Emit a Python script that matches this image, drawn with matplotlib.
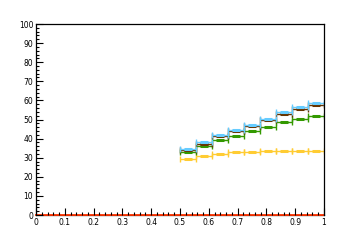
import numpy as np
import matplotlib
matplotlib.use('Agg')
import matplotlib.pyplot as plt
from matplotlib.ticker import MultipleLocator

edges = np.linspace(0.5, 1.0, 10)
centers = (edges[:-1] + edges[1:]) / 2
half = (edges[1:] - edges[:-1]) / 2

blue = [34.7, 38.2, 41.9, 44.3, 47.3, 50.4, 53.8, 56.4, 58.5]
brown = [33.9, 37.3, 41.2, 44.0, 46.8, 49.7, 52.7, 55.3, 57.4]
green = [33.0, 36.3, 39.1, 41.5, 43.8, 45.9, 48.5, 50.1, 51.7]
yellow = [29.2, 30.7, 31.8, 32.8, 32.8, 33.3, 33.3, 33.3, 33.3]
red_edges = [0.0, 1.0]
red = [0.0, 0.0]

series = [
    (yellow, '#ffcc33'),
    (green, '#339900'),
    (brown, '#663300'),
    (blue, '#66ccff'),
]

fig = plt.figure(figsize=(3.6, 2.4), dpi=100)
ax = fig.add_axes([0.1, 0.104, 0.8, 0.796])
ax.set_axisbelow(False)

for vals, col in series:
    ax.errorbar(centers, vals, xerr=half, fmt='none', ecolor=col,
                elinewidth=1.0, capsize=2, capthick=1.0)
    ax.plot(centers, vals, '_', color=col, markersize=6, markeredgewidth=2.2)

ax.plot(red_edges, red, color='#ff3300', lw=1.3, clip_on=False, zorder=1.5)

ax.set_xlim(0, 1)
ax.set_ylim(0, 100)
ax.xaxis.set_major_locator(MultipleLocator(0.1))
ax.xaxis.set_minor_locator(MultipleLocator(0.02))
ax.yaxis.set_major_locator(MultipleLocator(10))
ax.yaxis.set_minor_locator(MultipleLocator(2))
ax.xaxis.set_major_formatter(plt.FuncFormatter(lambda v, p: '%g' % round(v, 2)))
ax.tick_params(which='both', direction='in', top=False, right=False,
               labelsize=5.5, pad=2, width=0.8)
ax.tick_params(which='major', length=5)
ax.tick_params(which='minor', length=2.5)
for s in ax.spines.values():
    s.set_linewidth(0.9)
ax.spines['bottom'].set_zorder(1)

fig.savefig('out.png', dpi=100)
